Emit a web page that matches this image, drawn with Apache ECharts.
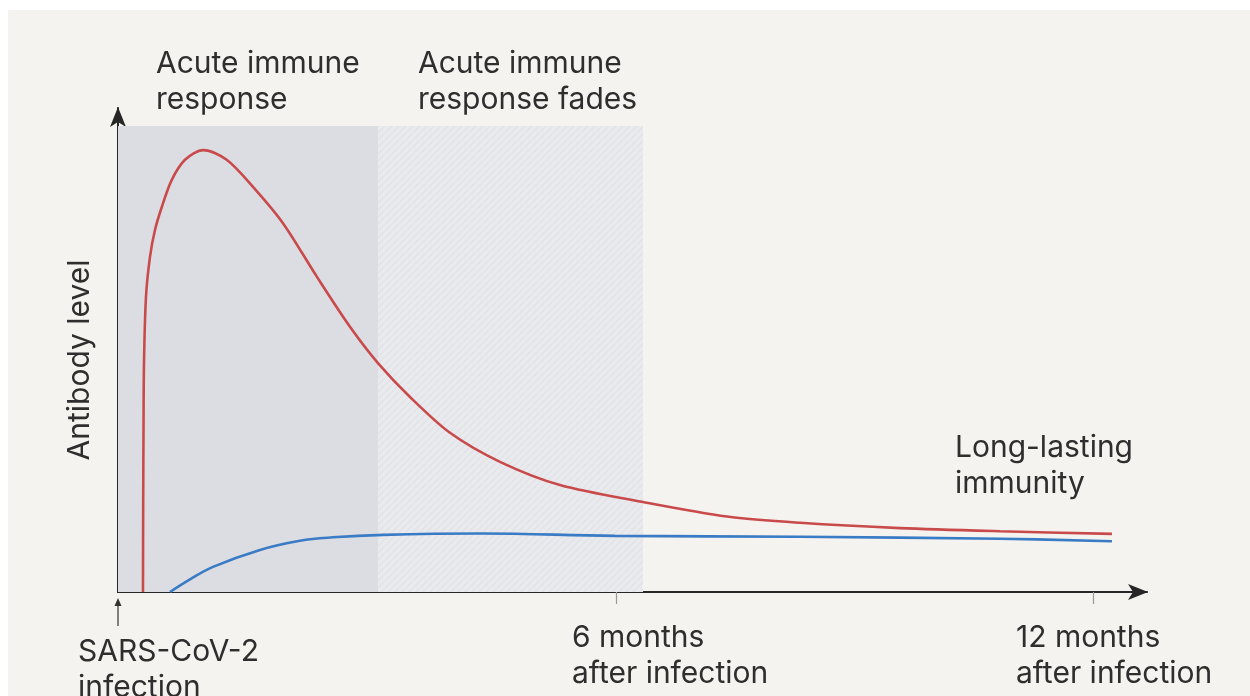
<!DOCTYPE html>
<html>
<head>
<meta charset="utf-8">
<script src="https://cdn.jsdelivr.net/npm/echarts@6/dist/echarts.min.js"></script>
<style>
  html, body { margin: 0; padding: 0; background: #ffffff; }
  #chart { width: 1250px; height: 696px; }
</style>
</head>
<body>
<div id="chart"></div>
<script>
// months after infection / antibody level (arbitrary units)
let acuteMonths = [0.05, 0.053, 0.057, 0.063, 0.088, 0.138, 0.201, 0.286, 0.411, 0.579, 0.809, 1.103, 1.434, 1.811, 2.239, 2.654, 3.006, 3.409, 3.912, 4.541, 5.296, 6.34, 7.396, 8.314, 9.572, 10.83, 12.239];
let acuteLevel  = [0, 19.0, 33.5, 47.3, 61.0, 69.2, 74.8, 79.5, 85.1, 89.3, 91.3, 89.3, 83.7, 76.2, 65.1, 54.8, 47.3, 40.3, 32.9, 26.9, 22.1, 18.6, 15.6, 14.3, 13.2, 12.55, 12.0];

let memoryMonths = [0.39, 0.642, 0.931, 1.522, 2.025, 2.44, 3.069, 4.289, 5.987, 8.314, 10.83, 12.239];
let memoryLevel  = [0, 2.6, 5.2, 8.7, 10.6, 11.3, 11.8, 12.1, 11.6, 11.4, 11.0, 10.5];

let tickMonths = [6, 12];
let tickLabels = ["6 months\nafter infection", "12 months\nafter infection"];

// phases: [start month, end month]
let acutePhase = [-0.264, 3.006];
let fadePhase = [3.006, 6.34];

let xMin = -0.264;
let xMax = 12.68;

function zip(a, b) {
    const out = [];
    for (let i = 0; i < a.length; i++) out.push([a[i], b[i]]);
    return out;
}

// diagonal hatch for the "fades" band
function hatch() {
    const c = document.createElement("canvas");
    c.width = 7;
    c.height = 7;
    const ctx = c.getContext("2d");
    ctx.fillStyle = "#e9eaee";
    ctx.fillRect(0, 0, 7, 7);
    ctx.strokeStyle = "#e0e1e6";
    ctx.lineWidth = 1.2;
    ctx.beginPath();
    ctx.moveTo(-2, 9); ctx.lineTo(9, -2);
    ctx.moveTo(-6, 5); ctx.lineTo(5, -6);
    ctx.moveTo(2, 13); ctx.lineTo(13, 2);
    ctx.stroke();
    return c;
}

const font = "Inter, 'Noto Sans', sans-serif";
const textColor = "#2e2e2e";

const dom = document.getElementById("chart");
const myChart = echarts.init(dom);

const arrowAxis = {
    onZero: false,
    lineStyle: { color: "#262626", width: 2 },
    symbol: ["none", "arrow"],
    symbolSize: [12, 20],
    symbolOffset: [0, 1]
};

const option = {
    animation: false,
    backgroundColor: "transparent",
    grid: { left: 118, right: 103, top: 108, bottom: 104 },
    xAxis: {
        type: "value",
        min: xMin,
        max: xMax,
        splitLine: { show: false },
        axisLine: arrowAxis,
        axisTick: {
            show: true,
            customValues: tickMonths,
            length: 12,
            lineStyle: { color: "#999", width: 1.2 }
        },
        axisLabel: { show: false }
    },
    yAxis: {
        type: "value",
        min: 0,
        max: 100,
        splitLine: { show: false },
        axisTick: { show: false },
        axisLabel: { show: false },
        axisLine: arrowAxis
    },
    series: [
        {
            name: "Acute",
            type: "line",
            data: zip(acuteMonths, acuteLevel),
            smooth: 0.3,
            showSymbol: false,
            lineStyle: { color: "#c94a4b", width: 2.6 },
            z: 3,
            markArea: {
                silent: true,
                data: [
                    [{ xAxis: acutePhase[0], yAxis: 0, itemStyle: { color: "#dcdde3" } },
                     { xAxis: acutePhase[1], yAxis: 96.3 }],
                    [{ xAxis: fadePhase[0], yAxis: 0, itemStyle: { color: { image: hatch(), repeat: "repeat" } } },
                     { xAxis: fadePhase[1], yAxis: 96.3 }]
                ]
            }
        },
        {
            name: "Memory",
            type: "line",
            data: zip(memoryMonths, memoryLevel),
            smooth: 0.4,
            showSymbol: false,
            lineStyle: { color: "#3a7bc5", width: 2.6 },
            z: 3
        }
    ],
    graphic: [
        { type: "rect", z: -10, shape: { x: 8, y: 10, width: 1250, height: 700 }, style: { fill: "#f4f3ef" } }
    ]
};

myChart.setOption(option, true);

// text annotations, placed relative to the axes
const txt = (x, y, s) => ({
    type: "text", x: x, y: y, z: 50,
    style: { text: s, font: "30px " + font, fill: textColor, lineHeight: 36 }
});

const labels = [
    txt(156, 46, "Acute immune\nresponse"),
    txt(418, 46, "Acute immune\nresponse fades"),
    txt(955, 430, "Long-lasting\nimmunity"),
    txt(78, 634, "SARS-CoV-2\ninfection"),
    {
        type: "text", x: 80, y: 360, rotation: Math.PI / 2, z: 50,
        style: { text: "Antibody level", font: "30px " + font, fill: textColor, align: "center", verticalAlign: "middle" }
    }
];

const offsets = [-44, -77];
for (let i = 0; i < tickMonths.length; i++) {
    const p = myChart.convertToPixel({ gridIndex: 0 }, [tickMonths[i], 0]);
    labels.push(txt(p[0] + offsets[i], 620, tickLabels[i]));
}

// infection marker arrow under the origin
labels.push({ type: "line", z: 50, shape: { x1: 118, y1: 626, x2: 118, y2: 603 }, style: { stroke: "#333", lineWidth: 1.2 } });
labels.push({ type: "polygon", z: 50, shape: { points: [[118, 598], [114.5, 606], [121.5, 606]] }, style: { fill: "#333" } });

myChart.setOption({ graphic: option.graphic.concat(labels) });
</script>
</body>
</html>
